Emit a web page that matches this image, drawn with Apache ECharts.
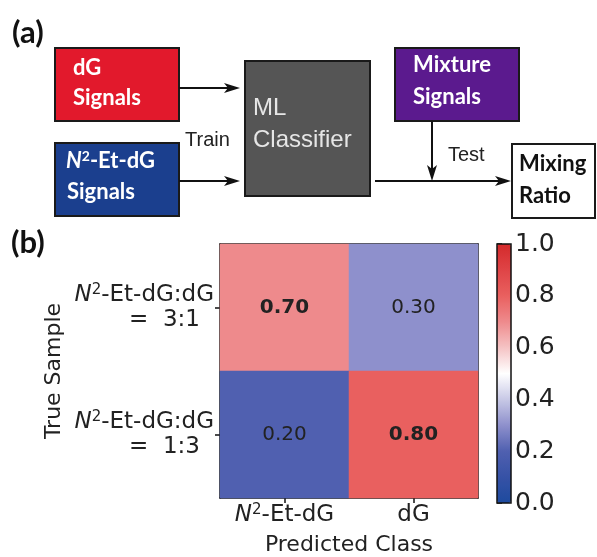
<!DOCTYPE html>
<html>
<head>
<meta charset="utf-8">
<script src="https://cdn.jsdelivr.net/npm/echarts@6/dist/echarts.min.js"></script>
<style>html,body{margin:0;padding:0;background:#fff}#c{width:597px;height:557px}</style>
</head>
<body>
<div id="c"></div>
<script>
// ---- data ----
const predictedClasses = ['N2-Et-dG', 'dG'];
const trueSamples = ['3:1', '1:3'];
const row31 = [0.70, 0.30];
const row13 = [0.20, 0.80];
const colorbarTicks = [0.0, 0.2, 0.4, 0.6, 0.8, 1.0];
const cmapColors = ['#1d4a9e','#3652a6','#5060b0','#8e90cc','#c8c9e6','#ffffff','#f5c3c4','#ee8a8c','#e9605f','#df4446','#d42a2b'];

const rows = [row31, row13];
const heatData = [];
rows.forEach((r, yi) => r.forEach((v, xi) => {
  heatData.push({value: [xi, yi, v], label: {fontWeight: xi === yi ? 'bold' : 'normal'}});
}));

const FONT = 'DejaVu Sans';
const txt = '#222';
const richLbl = {
  i: {fontFamily: FONT, fontStyle: 'italic', fontSize: 23, lineHeight: 25, color: txt},
  s: {fontFamily: FONT, fontSize: 15, lineHeight: 15, color: txt, verticalAlign: 'top'},
  t: {fontFamily: FONT, fontSize: 23, lineHeight: 25, color: txt},
  e: {fontFamily: FONT, fontSize: 23, lineHeight: 25, color: txt, padding: [0, 14, 0, 0]}
};

// ---- diagram ----
const boxFont = 'Lato';
function box(x, y, w, h, fill) {
  return {type: 'rect', shape: {x, y, width: w, height: h}, style: {fill, stroke: '#1a1a1a', lineWidth: 2}, z: 10};
}
function t(x, y, text, opts) {
  return {type: 'text', x, y, z: 11, style: Object.assign({text, fill: '#fff', font: 'bold 22px ' + boxFont, verticalAlign: 'middle', align: 'left'}, opts || {})};
}
function line(x1, y1, x2, y2) {
  return {type: 'line', shape: {x1, y1, x2, y2}, style: {stroke: '#111', lineWidth: 2}, z: 10};
}
function head(points) {
  return {type: 'polygon', shape: {points}, style: {fill: '#111'}, z: 10};
}
const graphics = [
  t(12, 33, '(a)', {fill: '#111', font: 'bold 31px ' + boxFont}),
  t(11, 243, '(b)', {fill: '#111', font: 'bold 31px ' + boxFont}),
  box(55, 48, 124, 73, '#e2192c'),
  t(73, 68, 'dG'), t(73, 98, 'Signals'),
  box(55, 143, 124, 73, '#1b3f8e'),
  {type: 'text', x: 66, y: 161, z: 11, style: {text: '{i|N}{s|2}{b|-Et-dG}', verticalAlign: 'middle', rich: {
    i: {fontFamily: boxFont, fontWeight: 'bold', fontStyle: 'italic', fontSize: 22, lineHeight: 24, fill: '#fff', color: '#fff'},
    s: {fontFamily: boxFont, fontWeight: 'bold', fontSize: 14, lineHeight: 14, fill: '#fff', color: '#fff', verticalAlign: 'top'},
    b: {fontFamily: boxFont, fontWeight: 'bold', fontSize: 22, lineHeight: 24, fill: '#fff', color: '#fff'}
  }}},
  t(67, 192, 'Signals'),
  box(245, 61, 125, 135, '#555555'),
  t(253, 108, 'ML', {font: '24px "Liberation Sans"', fill: '#e6e6e6'}),
  t(253, 140, 'Classifier', {font: '24px "Liberation Sans"', fill: '#e6e6e6'}),
  t(185, 140, 'Train', {font: '20px "Liberation Sans"', fill: '#222'}),
  box(395, 48, 124, 73, '#5b1a8e'),
  t(413, 65, 'Mixture'), t(413, 97, 'Signals'),
  box(512, 144, 83, 74, '#ffffff'),
  t(519, 164, 'Mixing', {fill: '#111'}), t(519, 196, 'Ratio', {fill: '#111'}),
  t(448, 155, 'Test', {font: '20px "Liberation Sans"', fill: '#222'}),
  line(179, 88, 228, 88), head([[240, 88], [224, 83], [228, 88], [224, 93]]),
  line(179, 181, 228, 181), head([[240, 181], [224, 176], [228, 181], [224, 186]]),
  line(432, 121, 432, 169), head([[432, 181], [427, 165], [432, 169], [437, 165]]),
  line(375, 181, 500, 181), head([[511, 181], [495, 176], [499, 181], [495, 186]])
];

const chart = echarts.init(document.getElementById('c'), null, {renderer: 'canvas'});
chart.setOption({
  animation: false,
  backgroundColor: '#fff',
  grid: [
    {left: 220, top: 244, width: 258, height: 259},
    {left: 497, top: 244, width: 14, height: 259, show: true, borderColor: '#111', borderWidth: 1.5, backgroundColor: 'transparent', z: 10}
  ],
  xAxis: [
    {gridIndex: 0, type: 'category', data: predictedClasses, position: 'bottom',
     axisLine: {show: true, lineStyle: {color: '#111', width: 1.5}},
     axisTick: {show: true, alignWithLabel: true, length: 5, lineStyle: {color: '#111', width: 1.5}},
     axisLabel: {margin: 5, formatter: v => v === 'N2-Et-dG' ? '{i|N}{s|2}{t|-Et-dG}' : '{t|' + v + '}', rich: richLbl},
     name: 'Predicted Class', nameLocation: 'middle', nameGap: 36,
     nameTextStyle: {fontFamily: FONT, fontSize: 22, color: txt, verticalAlign: 'top'}},
    {gridIndex: 0, type: 'category', data: predictedClasses, position: 'top',
     axisLine: {show: true, lineStyle: {color: '#111', width: 1.5}}, axisTick: {show: false}, axisLabel: {show: false}},
    {gridIndex: 1, type: 'value', show: false}
  ],
  yAxis: [
    {gridIndex: 0, type: 'category', data: trueSamples, inverse: true, position: 'left',
     axisLine: {show: true, lineStyle: {color: '#111', width: 1.5}},
     axisTick: {show: true, alignWithLabel: true, length: 5, lineStyle: {color: '#111', width: 1.5}},
     axisLabel: {margin: 6, align: 'right', formatter: v => '{i|N}{s|2}{t|-Et-dG:dG}\n{e|=  ' + v + '}', rich: richLbl},
     name: 'True Sample', nameLocation: 'middle', nameRotate: 90, nameGap: 155,
     nameTextStyle: {fontFamily: FONT, fontSize: 22, color: txt}},
    {gridIndex: 0, type: 'category', data: trueSamples, inverse: true, position: 'right',
     axisLine: {show: true, lineStyle: {color: '#111', width: 1.5}}, axisTick: {show: false}, axisLabel: {show: false}},
    {gridIndex: 1, type: 'value', min: 0, max: 1, interval: 0.2, position: 'right',
     axisLine: {show: false}, splitLine: {show: false},
     axisTick: {show: true, length: 5, lineStyle: {color: '#111', width: 1.5}},
     axisLabel: {margin: 4, fontFamily: FONT, fontSize: 25, color: txt, formatter: v => v.toFixed(1),
       customValues: colorbarTicks}}
  ],
  visualMap: {type: 'continuous', min: 0, max: 1, seriesIndex: 0, left: 497, top: 244, itemWidth: 14, itemHeight: 259,
    padding: 0, calculable: false, hoverLink: false, text: null, inRange: {color: cmapColors}},
  series: [{
    type: 'heatmap', xAxisIndex: 0, yAxisIndex: 0, data: heatData,
    label: {show: true, formatter: p => p.value[2].toFixed(2), fontFamily: FONT, fontSize: 20, color: '#222'},
    itemStyle: {borderWidth: 0}, emphasis: {disabled: true}
  }],
  graphic: graphics
});
</script>
</body>
</html>
